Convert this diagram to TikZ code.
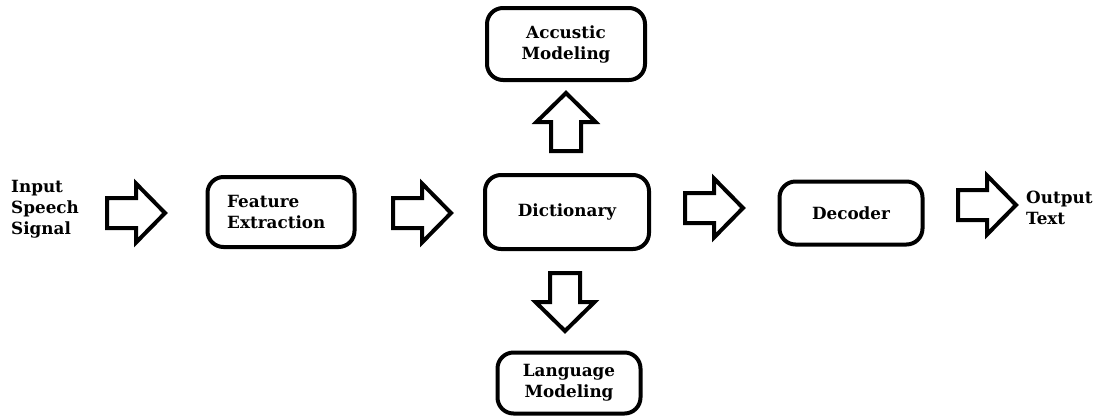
\documentclass[tikz,border=0pt]{standalone}
\usepackage{fontspec}
\setmainfont{DejaVu Serif}
\usetikzlibrary{calc}
\begin{document}
\begin{tikzpicture}[x=1pt,y=-1pt,
  box/.style={draw,line width=4pt,rounded corners=16pt,inner sep=0pt},
  lbl/.style={font=\bfseries\fontsize{16.8}{21}\selectfont,inner sep=0pt},
  barrow/.style={draw,line width=4pt,line join=miter,fill=white},
  rarrow/.pic={\path[barrow] (-29,-15) -- (0,-15) -- (0,-29.5) -- (29,0) -- (0,29.5) -- (0,15) -- (-29,15) -- cycle;}]
\useasboundingbox (0,0) rectangle (1115,416);
% boxes
\node[box,minimum width=147pt,minimum height=70pt] (fe) at (281,212) {};
\node[box,minimum width=158pt,minimum height=72pt] (am) at (566,44) {};
\node[box,minimum width=164pt,minimum height=74pt] (dict) at (567,212) {};
\node[box,minimum width=143pt,minimum height=61pt] (lm) at (569,383) {};
\node[box,minimum width=143pt,minimum height=63pt] (dec) at (851,213) {};
% texts
\node[lbl,align=left,anchor=west] (fet) at (227,212) {Feature\\Extraction};
\node[lbl,align=center] (amt) at (am) {Accustic\\Modeling};
\node[lbl] (dictt) at (dict) {Dictionary};
\node[lbl,align=center] (lmt) at (lm) {Language\\Modeling};
\node[lbl] (dect) at (dec) {Decoder};
\node[lbl,align=left,anchor=west] (in) at (11,209) {Input\\Speech\\Signal};
\node[lbl,align=left,anchor=west] (out) at (1026,208) {Output\\Text};
% block arrows (connectors)
\coordinate (a1) at (136,213);
\coordinate (a2) at (422,213);
\coordinate (a3) at (714,208);
\coordinate (a4) at (987,205);
\coordinate (a5) at (566,122);
\coordinate (a6) at (565,302);
\pic at (a1) {rarrow};
\pic at (a2) {rarrow};
\pic at (a3) {rarrow};
\pic at (a4) {rarrow};
\pic[rotate=90] at (a5) {rarrow};
\pic[rotate=-90] at (a6) {rarrow};
\end{tikzpicture}
\end{document}
